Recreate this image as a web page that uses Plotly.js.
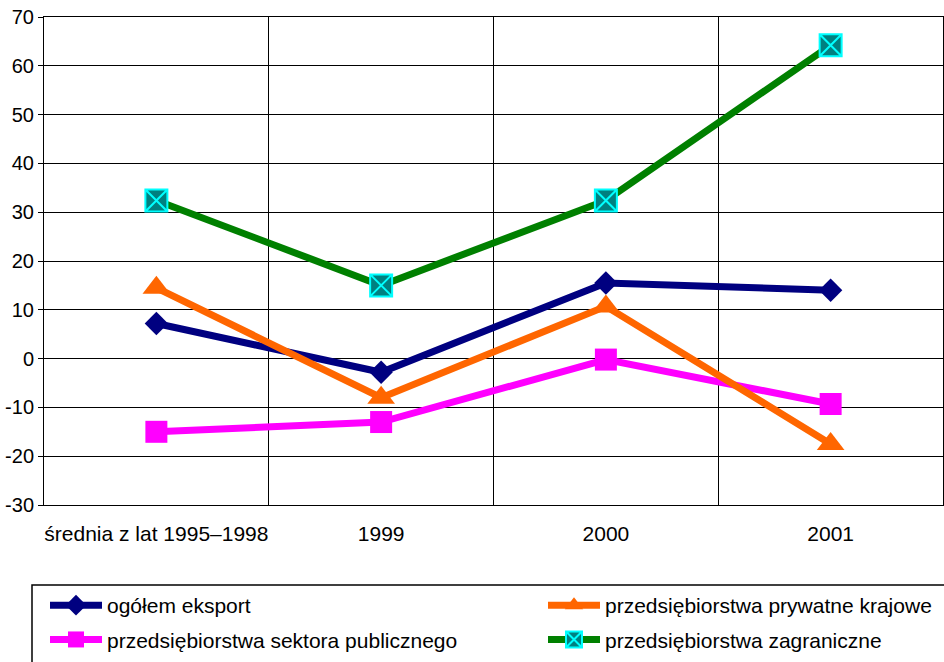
<!DOCTYPE html>
<html>
<head>
<meta charset="utf-8">
<script src="https://cdn.plot.ly/plotly-3.0.1.min.js"></script>
<style>html,body{margin:0;padding:0;background:#fff;}#chart{width:944px;height:662px;}</style>
</head>
<body>
<div id="chart"></div>
<script>
const categories = ["średnia z lat 1995–1998", "1999", "2000", "2001"];
const ogolemEksport = [7.2, -2.8, 15.5, 14.0];
const prywatneKrajowe = [14.5, -8.0, 10.7, -17.5];
const sektorPubliczny = [-15.0, -13.0, -0.2, -9.3];
const zagraniczne = [32.4, 15.0, 32.4, 64.2];
const yTicks = [-30, -20, -10, 0, 10, 20, 30, 40, 50, 60, 70];

const W = 944, H = 662;
const M = {l: 44, r: 1, t: 17, b: 157};
const PW = W - M.l - M.r, PH = H - M.t - M.b;
const px2x = p => (p - M.l) / PW;
const px2y = p => (H - M.b - p) / PH;

const font = {family: "Liberation Sans, Arial, sans-serif", size: 21, color: "#000"};

const traces = [
  {x: categories, y: sektorPubliczny, name: "przedsiębiorstwa sektora publicznego",
   legend: "legend", legendrank: 2, legendgroup: "b",
   mode: "lines+markers", line: {color: "#FF00FF", width: 7},
   marker: {symbol: "square", size: 22, color: "#FF00FF"}},
  {x: categories, y: ogolemEksport, name: "ogółem eksport",
   legend: "legend", legendrank: 1, legendgroup: "a",
   mode: "lines+markers", line: {color: "#000080", width: 7},
   marker: {symbol: "diamond", size: 18, color: "#000080"}},
  {x: categories, y: prywatneKrajowe, name: "przedsiębiorstwa prywatne krajowe",
   legend: "legend2", legendrank: 1, legendgroup: "c",
   mode: "lines+markers", line: {color: "#FF6600", width: 7},
   marker: {symbol: "triangle-up", size: 24, color: "#FF6600"}},
  {x: categories, y: zagraniczne, name: "przedsiębiorstwa zagraniczne",
   legend: "legend2", legendrank: 2, legendgroup: "d",
   mode: "lines+markers", line: {color: "#008000", width: 7},
   marker: {symbol: "square-x", size: 22, color: "#008080", line: {color: "#00FFFF", width: 2}}}
];

const legendBase = {
  orientation: "v", xanchor: "left", yanchor: "top",
  borderwidth: 0, bgcolor: "rgba(0,0,0,0)", itemwidth: 52,
  font: font, traceorder: "grouped", tracegroupgap: 4
};

const layout = {
  width: W, height: H,
  margin: {l: M.l, r: M.r, t: M.t, b: M.b, autoexpand: false},
  paper_bgcolor: "#fff", plot_bgcolor: "#fff",
  font: font,
  showlegend: true,
  xaxis: {
    type: "category", range: [-0.5, 3.5], tickson: "boundaries", showgrid: true, gridcolor: "#000", gridwidth: 1,
    showline: true, linecolor: "#000", linewidth: 1, mirror: true, automargin: false,
    ticks: "", tickangle: 0, ticklabelstandoff: 10, tickfont: font, fixedrange: true
  },
  yaxis: {
    range: [-30, 70], tickvals: yTicks, ticktext: yTicks.map(String), automargin: false,
    showgrid: true, gridcolor: "#000", gridwidth: 1,
    zeroline: true, zerolinecolor: "#000", zerolinewidth: 1,
    showline: true, linecolor: "#000", linewidth: 1, mirror: true,
    ticks: "outside", ticklen: 5, tickcolor: "#000", tickfont: Object.assign({}, font, {size: 20}), fixedrange: true
  },
  legend: Object.assign({}, legendBase, {x: px2x(45), y: px2y(585)}),
  legend2: Object.assign({}, legendBase, {x: px2x(543), y: px2y(585)}),
  shapes: [{
    type: "rect", xref: "paper", yref: "paper",
    x0: px2x(32), x1: px2x(960), y0: px2y(585), y1: px2y(680),
    line: {color: "#000", width: 1.5}, fillcolor: "rgba(0,0,0,0)"
  }]
};

Plotly.newPlot("chart", traces, layout, {displayModeBar: false, staticPlot: true});
</script>
</body>
</html>
